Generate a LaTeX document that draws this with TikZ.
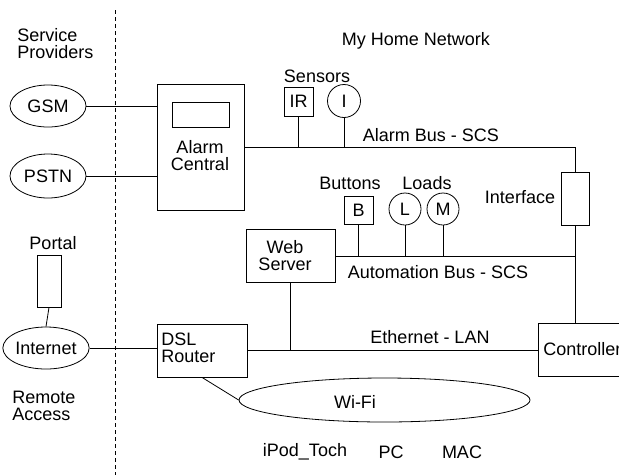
\documentclass[tikz,border=0pt]{standalone}
\usepackage{fontspec}
\setmainfont{Liberation Sans}
\usetikzlibrary{shapes.geometric}
\begin{document}
\begin{tikzpicture}[x=1pt,y=-1pt,line width=0.8pt,
  every node/.style={font=\fontsize{18}{21}\selectfont,inner sep=0pt},
  box/.style={draw,rectangle},
  oval/.style={draw,ellipse},
  dot/.style={draw,circle,minimum size=33pt},
  lbl/.style={align=center},
  lbll/.style={align=left,anchor=west}]
\clip (0,0) rectangle (619,475);
\fill[white] (0,0) rectangle (619,475);
% boundary
\coordinate (dtop) at (115,10);
\coordinate (dbot) at (115,475);
\draw[dash pattern=on 4pt off 3pt] (dtop) -- (dbot);
% left side
\node[lbll] (sp) at (17,44) {Service\\[-4pt]Providers};
\node[oval,minimum width=76pt,minimum height=42pt] (gsm) at (48,106) {GSM};
\node[oval,minimum width=76pt,minimum height=44pt] (pstn) at (48,176) {PSTN};
\node[lbl] (portlbl) at (53,243) {Portal};
\node[box,minimum width=24pt,minimum height=52pt] (portal) at (49,281) {};
\node[oval,minimum width=78pt,minimum height=42pt] (inet) at (46,348) {Internet};
\node[lbll] (remote) at (12,406) {Remote\\[-4pt]Access};
% home network
\node[lbl] (home) at (416,41) {My Home Network};
\node[box,minimum width=87pt,minimum height=126pt] (alarm) at (200.5,147) {};
\node[box,minimum width=57pt,minimum height=25pt] (disp) at (200.5,114.5) {};
\node[lbl] (alarmtxt) at (200,156) {Alarm\\[-4pt]Central};
\node[lbl] (sens) at (317,76) {Sensors};
\node[box,minimum width=29pt,minimum height=29pt] (ir) at (298.5,101.5) {IR};
\node[dot] (i) at (344,101) {I};
\node[lbl] (abus) at (431,135) {Alarm Bus - SCS};
\node[box,minimum width=28pt,minimum height=53pt] (iface) at (575,198.5) {};
\node[lbl] (ifacetxt) at (520,197) {Interface};
\node[lbl] (btn) at (350,183) {Buttons};
\node[lbl] (loads) at (427,183) {Loads};
\node[box,minimum width=29pt,minimum height=28pt] (b) at (358.5,210) {B};
\node[dot,minimum size=32pt] (l) at (405,209) {L};
\node[dot,minimum size=32pt] (m) at (443,209) {M};
\node[box,minimum width=89pt,minimum height=53pt] (web) at (290.5,255.5) {};
\node[lbl] (webtxt) at (285,255.5) {Web\\[-4pt]Server};
\node[lbl] (atbus) at (438,272) {Automation Bus - SCS};
\node[lbl] (eth) at (430,337) {Ethernet - LAN};
\node[box,minimum width=102pt,minimum height=53pt] (ctrl) at (589,349.5) {};
\node[anchor=west] (ctrltxt) at (543,349.5) {Controller};
\node[box,minimum width=90pt,minimum height=53pt] (dsl) at (202,350.5) {};
\node[lbll] (dsltxt) at (161,347.5) {DSL\\[-4pt]Router};
\node[oval,minimum width=291pt,minimum height=44pt] (wifi) at (384.5,400) {};
\node[lbl] (wifitxt) at (355,402) {Wi-Fi};
\node[lbl] (ipod) at (305,452) {iPod\_Toch};
\node[lbl] (pc) at (391,452) {PC};
\node[lbl] (mac) at (462,452) {MAC};
% connectors
\draw (gsm.east) -- (gsm.east -| alarm.west);
\draw (pstn.east) -- (pstn.east -| alarm.west);
\draw (alarm.east) -- (alarm.east -| iface.north) -- (iface.north);
\draw (ir.south) -- (ir.south |- alarm.east);
\draw (i.south) -- (i.south |- alarm.east);
\draw (iface.south) -- (iface.south |- ctrl.north);
\draw (web.east |- 0,256) -- (iface.south |- 0,256);
\draw (b.south) -- (b.south |- 0,256);
\draw (l.south) -- (l.south |- 0,256);
\draw (m.south) -- (m.south |- 0,256);
\draw (web.south) -- (web.south |- dsl.east);
\draw (dsl.east) -- (dsl.east -| ctrl.west);
\draw (inet.east) -- (inet.east -| dsl.west);
\draw (portal.south) -- (inet.north);
\draw (dsl.south) -- (wifi.west);
\end{tikzpicture}
\end{document}
